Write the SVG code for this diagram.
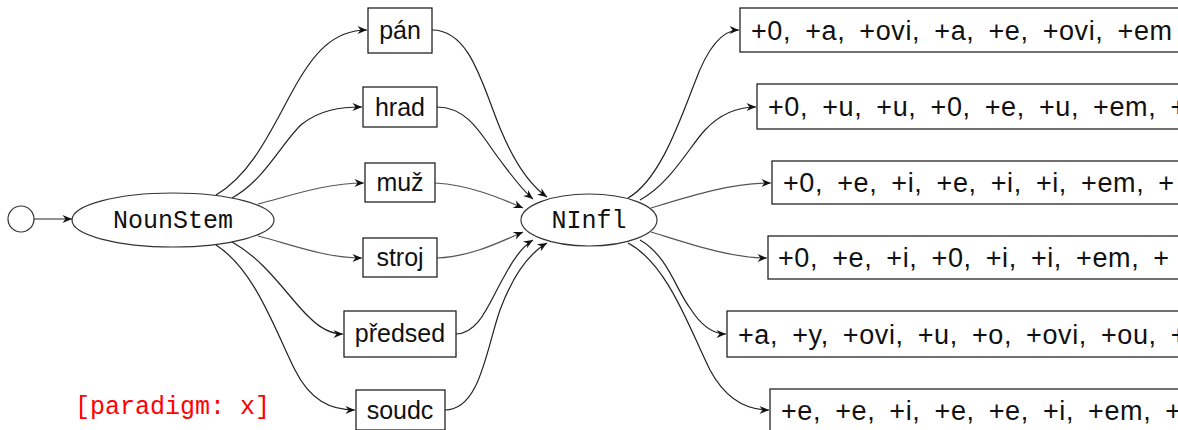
<svg xmlns="http://www.w3.org/2000/svg" width="1178" height="430" viewBox="0 0 1178 430">
  <style>
    .edge { fill: none; stroke: #222; stroke-width: 1.2; marker-end: url(#arrow); }
    .edge.flat { stroke: #555; }
    .box { fill: #fff; stroke: #111; stroke-width: 1.2; }
    .oval { fill: #fff; stroke: #333; stroke-width: 1.2; }
    .word { font-family: "Liberation Sans", Arial, sans-serif; font-size: 25px; fill: #111; text-anchor: middle; }
    .mono { font-family: "Liberation Mono", "Courier New", monospace; font-size: 25px; fill: #111; text-anchor: middle; }
    .infl { font-family: "Liberation Sans", Arial, sans-serif; font-size: 27px; fill: #111; letter-spacing: 0.6px; word-spacing: 6px; }
    .note { font-family: "Liberation Mono", "Courier New", monospace; font-size: 25px; fill: #ff0000; }
  </style>
  <defs>
    <marker id="arrow" markerUnits="userSpaceOnUse" markerWidth="12" markerHeight="10" viewBox="-10 -5 12 10" refX="0" refY="0" orient="auto">
      <path d="M -9.5 -4 L 0 0 L -9.5 4 L -6.5 0 z" fill="#111"/>
    </marker>
  </defs>

  <g id="connectors">
    <!-- entry -->
    <path class="edge" d="M34,219 L72,219"/>
    <!-- NounStem to stems -->
    <path class="edge" d="M216,195 C252,174 272,128 292,92 C312,55 332,30 367,30"/>
    <path class="edge" d="M232,198 C265,180 282,142 302,124 C320,110 340,107 362,107"/>
    <path class="edge flat" d="M258,204 C290,196 325,183 364,183"/>
    <path class="edge flat" d="M258,236 C290,244 325,258 362,258"/>
    <path class="edge" d="M232,242 C268,262 290,300 310,318 C322,330 332,334 343,334"/>
    <path class="edge" d="M216,245 C255,270 275,330 295,370 C310,400 330,410 355,410"/>
    <!-- stems to NInfl -->
    <path class="edge" d="M432,30 C470,30 482,84 500,128 C514,162 530,185 547,197"/>
    <path class="edge" d="M437,107 C470,107 484,140 500,160 C512,176 522,190 533,199"/>
    <path class="edge flat" d="M435,183 C470,185 500,198 523,208"/>
    <path class="edge flat" d="M437,258 C470,257 500,242 523,232"/>
    <path class="edge" d="M456,334 C480,334 490,300 505,275 C514,258 523,246 533,240"/>
    <path class="edge" d="M445,410 C480,410 486,350 500,310 C512,278 528,254 547,243"/>
    <!-- NInfl to endings -->
    <path class="edge" d="M628,198 C660,180 680,120 695,82 C706,52 720,30 739,30"/>
    <path class="edge" d="M640,200 C670,184 690,146 705,130 C720,114 738,107 756,107"/>
    <path class="edge flat" d="M651,208 C690,196 730,183 771,183"/>
    <path class="edge flat" d="M651,232 C690,244 730,258 767,258"/>
    <path class="edge" d="M640,240 C668,256 676,290 690,308 C700,324 712,334 726,334"/>
    <path class="edge" d="M628,243 C668,264 690,330 710,370 C725,398 745,410 769,410"/>
  </g>

  <g id="start">
    <circle cx="21" cy="219" r="13" fill="#fff" stroke="#333" stroke-width="1.2"/>
  </g>

  <g id="NounStem">
    <ellipse class="oval" cx="173" cy="220" rx="101" ry="27"/>
    <text class="mono" x="173" y="228">NounStem</text>
  </g>

  <g id="pan">
    <rect class="box" x="368" y="8" width="64" height="45"/>
    <text class="word" x="400" y="39">pán</text>
  </g>
  <g id="hrad">
    <rect class="box" x="363" y="87" width="74" height="40"/>
    <text class="word" x="400" y="116">hrad</text>
  </g>
  <g id="muz">
    <rect class="box" x="365" y="163" width="70" height="39"/>
    <text class="word" x="400" y="191">muž</text>
  </g>
  <g id="stroj">
    <rect class="box" x="363" y="238" width="74" height="39"/>
    <text class="word" x="400" y="266">stroj</text>
  </g>
  <g id="predsed">
    <rect class="box" x="344" y="311" width="112" height="46"/>
    <text class="word" x="400" y="342">předsed</text>
  </g>
  <g id="soudc">
    <rect class="box" x="356" y="390" width="89" height="40"/>
    <text class="word" x="400" y="419">soudc</text>
  </g>

  <g id="NInfl">
    <ellipse class="oval" cx="589" cy="220" rx="68" ry="26"/>
    <text class="mono" x="589" y="228">NInfl</text>
  </g>

  <g id="endings1">
    <rect class="box" x="740" y="8" width="460" height="44"/>
    <text class="infl" x="751" y="40">+0, +a, +ovi, +a, +e, +ovi, +em</text>
  </g>
  <g id="endings2">
    <rect class="box" x="757" y="84" width="440" height="45"/>
    <text class="infl" x="768" y="116">+0, +u, +u, +0, +e, +u, +em, +</text>
  </g>
  <g id="endings3">
    <rect class="box" x="772" y="161" width="430" height="43"/>
    <text class="infl" x="783" y="192">+0, +e, +i, +e, +i, +i, +em, +</text>
  </g>
  <g id="endings4">
    <rect class="box" x="768" y="236" width="430" height="43"/>
    <text class="infl" x="778" y="267">+0, +e, +i, +0, +i, +i, +em, +</text>
  </g>
  <g id="endings5">
    <rect class="box" x="727" y="311" width="470" height="46"/>
    <text class="infl" x="738" y="344">+a, +y, +ovi, +u, +o, +ovi, +ou, +</text>
  </g>
  <g id="endings6">
    <rect class="box" x="770" y="389" width="430" height="45"/>
    <text class="infl" x="781" y="420">+e, +e, +i, +e, +e, +i, +em, +</text>
  </g>

  <text class="note" x="75" y="414">[paradigm: x]</text>
</svg>
